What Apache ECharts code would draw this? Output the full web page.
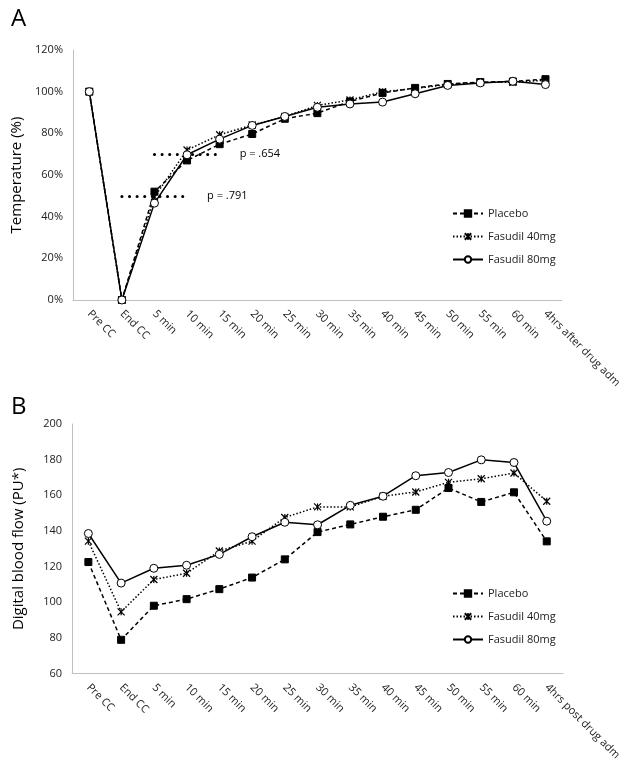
<!DOCTYPE html>
<html>
<head>
<meta charset="utf-8">
<script src="https://cdn.jsdelivr.net/npm/echarts@6/dist/echarts.min.js"></script>
<style>html,body{margin:0;padding:0;background:#fff}#c{width:624px;height:763px}</style>
</head>
<body>
<div id="c"></div>
<script>
const catsA = ['Pre CC','End CC','5 min','10 min','15 min','20 min','25 min','30 min','35 min','40 min','45 min','50 min','55 min','60 min','4hrs after drug adm'];
const catsB = ['Pre CC','End CC','5 min','10 min','15 min','20 min','25 min','30 min','35 min','40 min','45 min','50 min','55 min','60 min','4hrs post drug adm'];
const seriesNames = ['Placebo','Fasudil 40mg','Fasudil 80mg'];
const tempPlacebo = [100,0,52,67,74.8,79.7,87,89.7,95.3,99.4,101.8,103.7,104.6,104.9,106];
const temp40 = [100,0,49.5,72,79.3,84,88,93.4,96,100,101.5,103.5,104.5,104.5,105.5];
const temp80 = [100,0,46.5,69.7,77.2,83.8,88.1,92.5,94.1,95,99,103,104.2,105,103.4];
const flowPlacebo = [122.6,79,98.1,101.8,107.4,113.9,124.1,139.4,143.7,148,151.9,164.1,156.3,161.7,134.2];
const flow40 = [134.3,94.7,112.8,116.3,128.8,134.3,147.6,153.5,153.5,159.5,161.9,167.3,169.3,172.5,156.7];
const flow80 = [138.6,110.8,119.1,120.8,126.9,136.8,144.9,143.5,154.4,159.5,171,172.8,179.9,178.4,145.5];
const pNotes = [
  {from:'5 min', to:'15 min', y:70, text:'p = .654'},
  {from:'End CC', to:'10 min', y:50, text:'p = .791'}
];

const font = 'Open Sans, Liberation Sans, sans-serif';
const axisGray = '#bfbfbf';
const starPath = 'path://M0,0L10,10M10,0L0,10M5,0L5,10';

function styles(i){
  if(i===0) return {symbol:'rect', symbolSize:7, lineStyle:{color:'#000',width:1.5,type:[4,3]}, itemStyle:{color:'#000',borderColor:'#000',borderWidth:1}};
  if(i===1) return {symbol:starPath, symbolSize:7, lineStyle:{color:'#000',width:1.5,type:[1.5,2]}, itemStyle:{color:'rgba(0,0,0,0)',borderColor:'#000',borderWidth:1.2}};
  return {symbol:'circle', symbolSize:8, lineStyle:{color:'#000',width:1.5,type:'solid'}, itemStyle:{color:'#fff',borderColor:'#000',borderWidth:1}};
}

function mkSeries(data, i, gi){
  return Object.assign({
    name: seriesNames[i], type:'line', xAxisIndex:gi, yAxisIndex:gi, data:data,
    showAllSymbol:true, animation:false, z: 3+i
  }, styles(i));
}

const sA = [tempPlacebo,temp40,temp80].map((d,i)=>mkSeries(d,i,0));
sA[0].markLine = {
  silent:true, symbol:['none','none'], animation:false,
  lineStyle:{color:'#000', width:3, type:[0.1,7.5], cap:'round'},
  label:{show:true, position:'end', distance:20, color:'#000', fontFamily:font, fontSize:11},
  data: pNotes.map(p=>[{coord:[p.from,p.y], label:{formatter:p.text}},{coord:[p.to,p.y]}])
};
const sB = [flowPlacebo,flow40,flow80].map((d,i)=>mkSeries(d,i,1));

function xAxis(cats, gi){
  return {type:'category', gridIndex:gi, data:cats, boundaryGap:true,
    axisLine:{show:true, lineStyle:{color:axisGray, width:1}}, axisTick:{show:false},
    axisLabel:{rotate:-45, interval:0, color:'#222', fontFamily:font, fontSize:11, margin:12}};
}
function yAxis(gi, min, max, interval, fmt, name){
  return {type:'value', gridIndex:gi, min:min, max:max, interval:interval,
    axisLine:{show:true, lineStyle:{color:axisGray, width:1}}, axisTick:{show:false}, splitLine:{show:false},
    axisLabel:{formatter:fmt, color:'#222', fontFamily:font, fontSize:11, margin:10},
    name:name, nameLocation:'middle', nameGap:46, nameRotate:90,
    nameTextStyle:{color:'#000', fontFamily:font, fontSize:15}};
}
function legend(top){
  return {top:top, left:447, orient:'vertical', itemGap:12, itemWidth:30, itemHeight:8,
    data:seriesNames, textStyle:{color:'#222', fontFamily:font, fontSize:11}, selectedMode:false};
}

const chart = echarts.init(document.getElementById('c'), null, {renderer:'canvas'});
chart.setOption({
  backgroundColor:'#fff',
  animation:false,
  title:[
    {text:'A', left:6, top:2, textStyle:{fontFamily:font, fontSize:24, fontWeight:'normal', color:'#000'}},
    {text:'B', left:6, top:390, textStyle:{fontFamily:font, fontSize:24, fontWeight:'normal', color:'#000'}}
  ],
  legend:[legend(203), legend(583)],
  grid:[
    {left:73, right:59, top:50, bottom:463},
    {left:72, right:60, top:424, bottom:88}
  ],
  xAxis:[xAxis(catsA,0), xAxis(catsB,1)],
  yAxis:[
    yAxis(0,0,120,20,'{value}%','Temperature (%)'),
    yAxis(1,60,200,20,'{value}','Digital blood flow (PU*)')
  ],
  series: sA.concat(sB)
});
</script>
</body>
</html>
